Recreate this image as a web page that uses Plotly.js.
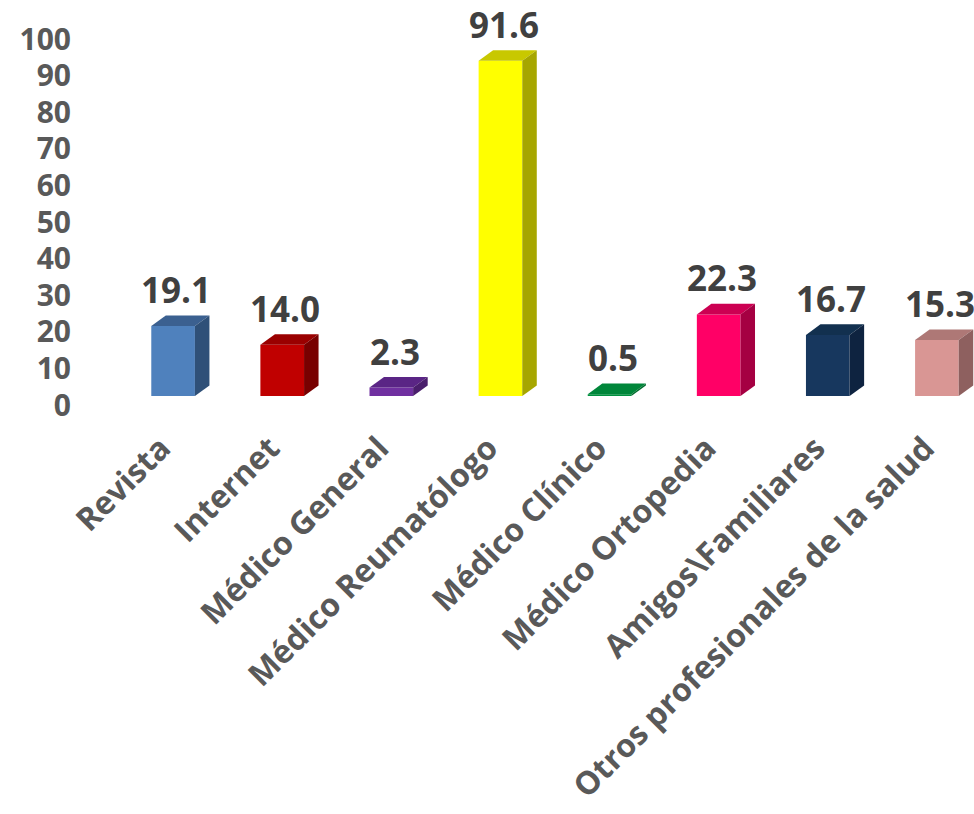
<!DOCTYPE html>
<html>
<head>
<meta charset="utf-8">
<script src="https://cdn.plot.ly/plotly-3.0.1.min.js"></script>
<style>html,body{margin:0;padding:0;background:#fff;}#chart{width:974px;height:814px;}</style>
</head>
<body>
<div id="chart"></div>
<script>
// ---- data ----
const categories = ["Revista", "Internet", "Médico General", "Médico Reumatólogo", "Médico Clínico", "Médico Ortopedia", "Amigos\\Familiares", "Otros profesionales de la salud"];
const values = [19.1, 14.0, 2.3, 91.6, 0.5, 22.3, 16.7, 15.3];
const valueLabels = ["19.1", "14.0", "2.3", "91.6", "0.5", "22.3", "16.7", "15.3"];
const yTicks = [0, 10, 20, 30, 40, 50, 60, 70, 80, 90, 100];

// ---- styling ----
const frontColors = ["#4F81BD", "#C00000", "#7030A0", "#FFFF00", "#00913F", "#FF0066", "#17375E", "#D99694"];
const topColors   = ["#3B6090", "#9A0000", "#5A2585", "#C8C800", "#00863A", "#CC0052", "#12304F", "#AE7876"];
const sideColors  = ["#2F5078", "#780000", "#4A1E6C", "#A6A600", "#006E2F", "#A50042", "#0E2340", "#8E605F"];
const barW = 0.40;   // front face width (category units)
const dX = 0.133;    // depth offset in x (category units)
const dY = 2.9;      // depth offset in y (value units)

const xs = categories.map((c, i) => i);
const traces = [];
traces.push({
  type: "bar", x: xs, y: values, width: barW,
  marker: {color: frontColors, line: {width: 0}},
  hoverinfo: "skip", showlegend: false
});
xs.forEach((x, i) => {
  const v = values[i];
  const l = x - barW / 2, r = x + barW / 2;
  traces.push({
    type: "scatter", mode: "lines", fill: "toself",
    x: [l, r, r + dX, l + dX, l], y: [v, v, v + dY, v + dY, v],
    fillcolor: topColors[i], line: {width: 0, color: topColors[i]},
    hoverinfo: "skip", showlegend: false
  });
  traces.push({
    type: "scatter", mode: "lines", fill: "toself",
    x: [r, r + dX, r + dX, r, r], y: [0, dY, v + dY, v, 0],
    fillcolor: sideColors[i], line: {width: 0, color: sideColors[i]},
    hoverinfo: "skip", showlegend: false
  });
});

const annotations = xs.map((x, i) => ({
  x: x + 0.03, y: values[i], xref: "x", yref: "y",
  text: valueLabels[i], showarrow: false,
  xanchor: "center", yanchor: "bottom", yshift: 11,
  font: {family: "Open Sans, sans-serif", size: 35, color: "#404040", weight: 700}
}));

const layout = {
  width: 974, height: 814,
  margin: {l: 118, r: 0, t: 30, b: 418},
  paper_bgcolor: "#ffffff", plot_bgcolor: "#ffffff",
  showlegend: false,
  xaxis: {
    range: [-0.505, 7.34],
    tickmode: "array", tickvals: xs, ticktext: categories,
    tickangle: -45, ticks: "", ticklabelstandoff: 26, ticklabelshift: -12,
    showgrid: false, zeroline: false, showline: false,
    tickfont: {family: "Open Sans, sans-serif", size: 32, color: "#595959", weight: 700},
    fixedrange: true
  },
  yaxis: {
    range: [0, 100],
    tickmode: "array", tickvals: yTicks, ticktext: yTicks.map(String),
    ticks: "", ticklabelstandoff: 46, ticklabelshift: 9,
    showgrid: false, zeroline: false, showline: false,
    tickfont: {family: "Open Sans, sans-serif", size: 30, color: "#595959", weight: 700},
    fixedrange: true
  },
  annotations: annotations
};

Plotly.newPlot("chart", traces, layout, {displayModeBar: false, staticPlot: true});
</script>
</body>
</html>
